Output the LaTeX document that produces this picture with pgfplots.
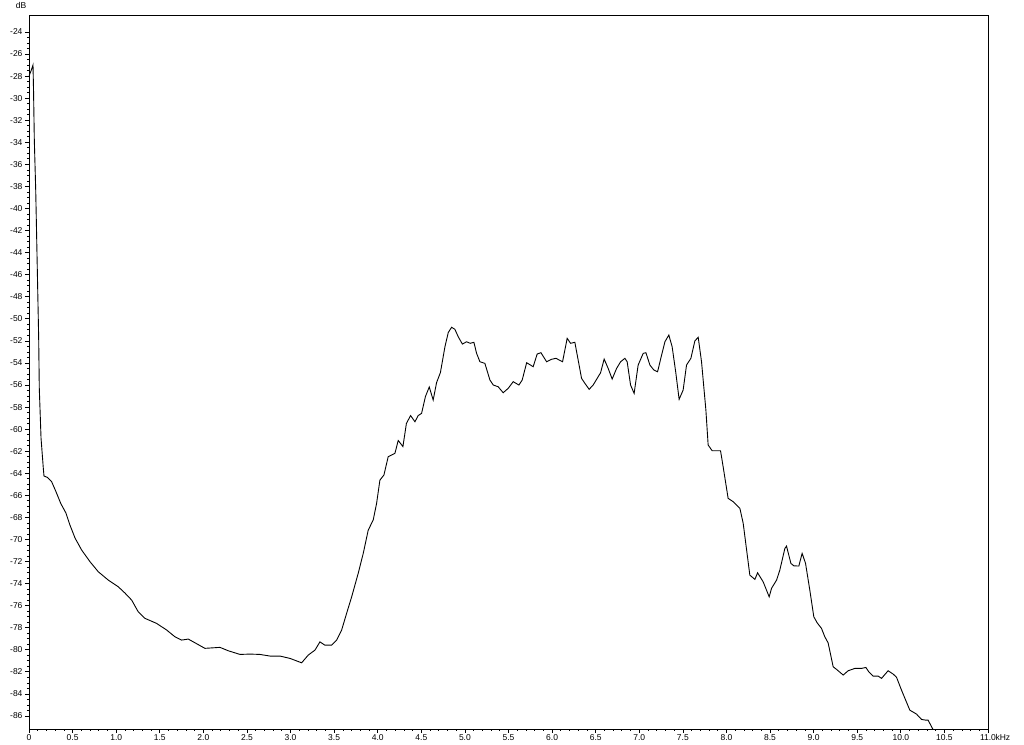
\documentclass[border=0pt]{standalone}
\usepackage{fontspec}
\setmainfont{Liberation Sans}
\usepackage{pgfplots}
\pgfplotsset{compat=1.18}
\pgfplotstableread{
x y
0.000 -27.99
0.023 -27.54
0.046 -26.99
0.052 -29.26
0.061 -33.79
0.077 -38.32
0.092 -44.22
0.111 -51.74
0.118 -56.28
0.138 -60.81
0.164 -63.53
0.172 -64.25
0.210 -64.37
0.260 -64.77
0.310 -65.68
0.364 -66.73
0.424 -67.61
0.470 -68.70
0.528 -69.87
0.604 -70.96
0.700 -72.02
0.795 -72.93
0.909 -73.68
1.024 -74.29
1.101 -74.86
1.178 -75.50
1.253 -76.56
1.330 -77.15
1.464 -77.61
1.579 -78.21
1.674 -78.82
1.751 -79.12
1.827 -79.03
1.884 -79.28
2.018 -79.87
2.114 -79.82
2.190 -79.78
2.286 -80.09
2.420 -80.42
2.534 -80.39
2.649 -80.42
2.764 -80.57
2.878 -80.57
2.993 -80.78
3.127 -81.18
3.203 -80.48
3.280 -80.03
3.337 -79.28
3.394 -79.58
3.471 -79.58
3.529 -79.12
3.586 -78.21
3.643 -76.70
3.701 -75.20
3.776 -73.07
3.834 -71.26
3.891 -69.15
3.948 -68.24
3.987 -66.73
4.025 -64.62
4.071 -64.16
4.120 -62.50
4.197 -62.20
4.235 -61.03
4.289 -61.58
4.329 -59.48
4.377 -58.77
4.427 -59.33
4.464 -58.77
4.503 -58.57
4.547 -57.05
4.591 -56.18
4.636 -57.36
4.675 -55.78
4.719 -54.87
4.771 -52.53
4.809 -51.24
4.847 -50.77
4.885 -50.95
4.923 -51.62
4.971 -52.29
5.019 -52.08
5.061 -52.22
5.103 -52.13
5.134 -53.13
5.172 -53.89
5.229 -54.04
5.287 -55.55
5.325 -56.00
5.382 -56.16
5.439 -56.70
5.497 -56.30
5.554 -55.70
5.619 -56.00
5.657 -55.55
5.708 -53.98
5.783 -54.34
5.829 -53.19
5.872 -53.07
5.937 -53.89
5.994 -53.67
6.044 -53.58
6.120 -53.89
6.173 -51.77
6.212 -52.22
6.261 -52.13
6.299 -53.74
6.338 -55.40
6.376 -55.85
6.425 -56.39
6.471 -56.00
6.517 -55.40
6.556 -54.89
6.597 -53.65
6.643 -54.49
6.689 -55.46
6.740 -54.49
6.786 -53.89
6.835 -53.58
6.861 -53.89
6.900 -56.00
6.941 -56.76
6.987 -54.19
7.045 -53.13
7.076 -53.07
7.122 -54.19
7.167 -54.64
7.210 -54.80
7.256 -53.28
7.294 -52.08
7.339 -51.47
7.377 -52.53
7.420 -54.94
7.457 -57.30
7.503 -56.46
7.542 -54.19
7.592 -53.58
7.638 -51.99
7.676 -51.68
7.714 -53.89
7.764 -58.27
7.790 -61.44
7.836 -61.96
7.932 -61.96
7.962 -63.41
8.019 -66.27
8.077 -66.58
8.154 -67.18
8.192 -68.54
8.268 -73.23
8.326 -73.62
8.357 -73.02
8.421 -73.84
8.490 -75.20
8.517 -74.43
8.575 -73.68
8.612 -72.78
8.670 -70.81
8.689 -70.60
8.739 -72.17
8.773 -72.39
8.830 -72.41
8.868 -71.26
8.907 -72.17
8.956 -74.59
9.002 -77.01
9.040 -77.55
9.090 -78.06
9.128 -78.82
9.166 -79.37
9.224 -81.54
9.263 -81.78
9.339 -82.29
9.396 -81.90
9.472 -81.69
9.549 -81.69
9.599 -81.60
9.633 -82.00
9.683 -82.39
9.740 -82.39
9.779 -82.59
9.854 -81.90
9.912 -82.20
9.951 -82.50
10.008 -83.66
10.103 -85.47
10.180 -85.83
10.237 -86.31
10.287 -86.38
10.313 -86.38
10.373 -87.28
}\spectrum
\begin{document}
\begin{tikzpicture}
\begin{axis}[
  name=ax,
  scale only axis,
  width=959pt, height=714pt,
  xmin=0, xmax=11,
  ymin=-87.18, ymax=-22.46,
  axis line style={line width=0.8pt},
  xtick={0,0.5,1,1.5,2,2.5,3,3.5,4,4.5,5,5.5,6,6.5,7,7.5,8,8.5,9,9.5,10,10.5,11},
  xticklabels={0,0.5,1.0,1.5,2.0,2.5,3.0,3.5,4.0,4.5,5.0,5.5,6.0,6.5,7.0,7.5,8.0,8.5,9.0,9.5,10.0,10.5,11.0},
  ytick={-86,-84,...,-24},
  yticklabel={\pgfmathtruncatemacro\t{round(\tick)}\t},
  minor x tick num=4,
  minor y tick num=3,
  tick align=outside,
  xtick pos=bottom, ytick pos=left,
  major tick length=4pt,
  minor tick length=2pt,
  tick style={line width=0.7pt, black},
  tick label style={font=\fontsize{8.5}{9.5}\selectfont},
  xticklabel style={yshift=1.5pt},
  yticklabel style={xshift=1pt},
  clip=true,
]
\addplot[black, line width=0.9pt] table[x=x,y=y] {\spectrum};
\end{axis}
\node[font=\fontsize{8.5}{9.5}\selectfont, anchor=west] at ([xshift=4pt,yshift=-8pt]ax.south east) {kHz};
\node[font=\fontsize{8.5}{9.5}\selectfont] at ([xshift=-8pt,yshift=9.5pt]ax.north west) {dB};
\pgfresetboundingbox
\path[use as bounding box] ([xshift=-29pt,yshift=-16pt]ax.south west) rectangle ([xshift=36pt,yshift=15pt]ax.north east);
\end{tikzpicture}
\end{document}
